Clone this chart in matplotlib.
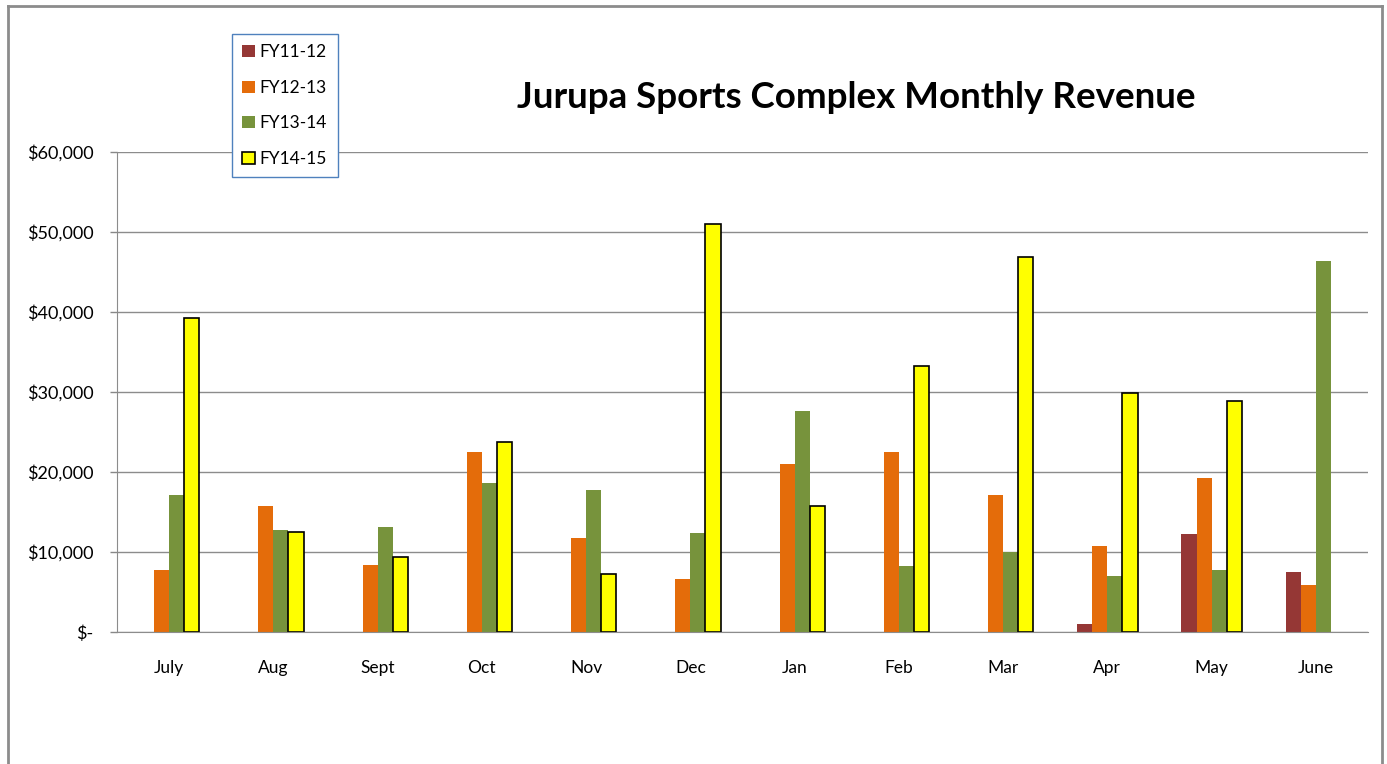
import numpy as np
import matplotlib
matplotlib.use("Agg")
import matplotlib.pyplot as plt
from matplotlib.lines import Line2D
from matplotlib.ticker import FuncFormatter

plt.rcParams['font.family'] = ['Lato', 'DejaVu Sans']

# data
months = ['July', 'Aug', 'Sept', 'Oct', 'Nov', 'Dec', 'Jan', 'Feb', 'Mar', 'Apr', 'May', 'June']
fy11_12 = [0, 0, 0, 0, 0, 0, 0, 0, 0, 950, 12300, 7500]
fy12_13 = [7800, 15800, 8400, 22500, 11700, 6600, 21000, 22500, 17100, 10700, 19200, 5900]
fy13_14 = [17100, 12800, 13100, 18600, 17700, 12400, 27600, 8300, 10000, 7000, 7800, 46400]
fy14_15 = [39200, 12500, 9400, 23800, 7250, 51000, 15800, 33200, 46900, 29900, 28900, 0]
series_names = ['FY11-12', 'FY12-13', 'FY13-14', 'FY14-15']
colors = ['#953735', '#E46C0A', '#77933C', '#FFFF00']

fig = plt.figure(figsize=(13.87, 7.64), dpi=100)
ax = fig.add_axes([117 / 1387, 1 - 632 / 764, 1251 / 1387, 480 / 764])

x = np.arange(len(months))
w = 0.145
all_series = [fy11_12, fy12_13, fy13_14, fy14_15]
for i, (vals, name, c) in enumerate(zip(all_series, series_names, colors)):
    offs = (i - 1.5) * w
    v = np.array(vals, dtype=float)
    v[v == 0] = np.nan  # empty months draw nothing
    if name == 'FY14-15':
        ax.bar(x + offs, v, w, color=c, edgecolor='black', linewidth=1.2, label=name, zorder=3)
    else:
        ax.bar(x + offs, v, w, color=c, linewidth=0, label=name, zorder=3)

ax.set_xlim(-0.5, 11.5)
ax.set_ylim(0, 60000)
ax.set_yticks(np.arange(0, 60001, 10000))
ax.yaxis.set_major_formatter(FuncFormatter(lambda v, p: '$-' if v == 0 else '${:,.0f}'.format(v)))
ax.set_xticks(x)
ax.set_xticklabels(months)
ax.tick_params(axis='x', length=0, pad=20, labelsize=12.5)
ax.tick_params(axis='y', length=5, width=1, color='#888888', pad=12, labelsize=13)
ax.grid(axis='y', color='#8c8c8c', linewidth=1, zorder=0)
for s in ['top', 'right']:
    ax.spines[s].set_visible(False)
ax.spines['left'].set_color('#8c8c8c')
ax.spines['bottom'].set_color('#8c8c8c')
ax.spines['bottom'].set_zorder(4)

fig.text(856 / 1387, 1 - 97 / 764, 'Jurupa Sports Complex Monthly Revenue',
         ha='center', va='center', fontsize=26.5, fontweight='bold')

leg = fig.legend(loc='upper left', bbox_to_anchor=(232 / 1387, 1 - 34 / 764),
                 fontsize=12.5, handlelength=0.7, handleheight=0.7, handletextpad=0.3,
                 labelspacing=1.12, borderpad=0.6, borderaxespad=0,
                 fancybox=False, framealpha=1)
leg.get_frame().set_edgecolor('#4F81BD')
leg.get_frame().set_linewidth(1)

# outer chart frame
fc = '#8c8c8c'
fig.add_artist(Line2D([8 / 1387, 8 / 1387], [0, 1 - 6 / 764], color=fc, lw=2, transform=fig.transFigure))
fig.add_artist(Line2D([8 / 1387, 1382 / 1387], [1 - 6 / 764, 1 - 6 / 764], color=fc, lw=2, transform=fig.transFigure))
fig.add_artist(Line2D([1382 / 1387, 1382 / 1387], [0, 1 - 6 / 764], color=fc, lw=2, transform=fig.transFigure))

fig.savefig('out.png', dpi=100)
